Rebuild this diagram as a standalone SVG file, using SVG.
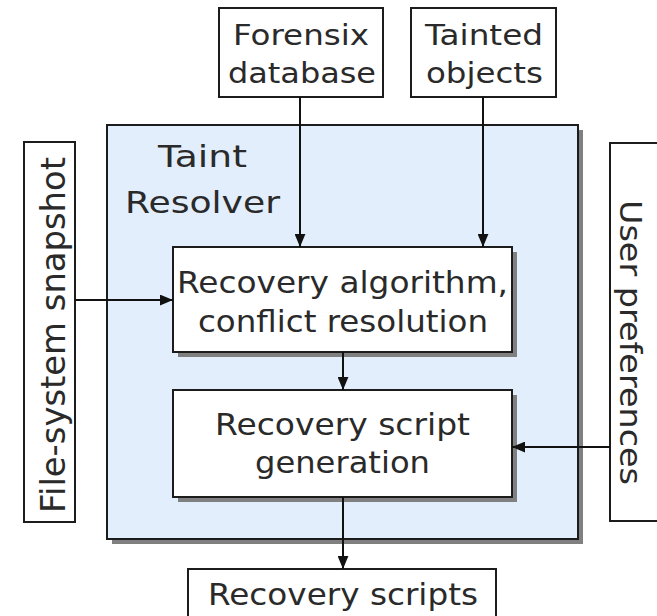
<svg xmlns="http://www.w3.org/2000/svg" width="657" height="616" viewBox="0 0 657 616">
  <style>
    .box { fill: #ffffff; stroke: #1c1c1c; stroke-width: 2; }
    .shadow { fill: #808080; }
    .resolver { fill: #e3eefc; stroke: #1c1c1c; stroke-width: 2; }
    .lbl { font-family: "DejaVu Sans", Verdana, sans-serif; fill: #2a2a2a; }
    .wire { stroke: #111111; stroke-width: 2; fill: none; marker-end: url(#head); }
  </style>
  <defs>
    <marker id="head" viewBox="0 0 12 10" refX="12" refY="5" markerWidth="13" markerHeight="11" markerUnits="userSpaceOnUse" orient="auto">
      <path d="M0,0 L12,5 L0,10 z" fill="#111111"/>
    </marker>
  </defs>

  <rect width="657" height="616" fill="#ffffff"/>

  <!-- Taint Resolver container -->
  <g id="taint-resolver">
    <rect class="shadow" x="112" y="130" width="471" height="414"/>
    <rect class="resolver" x="107" y="125" width="471" height="414"/>
    <text class="lbl" font-size="30" x="158" y="167" textLength="89" lengthAdjust="spacingAndGlyphs">Taint</text>
    <text class="lbl" font-size="30" x="125" y="213" textLength="155" lengthAdjust="spacingAndGlyphs">Resolver</text>
  </g>

  <!-- Inputs -->
  <g id="forensix-database">
    <rect class="box" x="219" y="8" width="164" height="89"/>
    <text class="lbl" font-size="28" x="233" y="45" textLength="136" lengthAdjust="spacingAndGlyphs">Forensix</text>
    <text class="lbl" font-size="28" x="228" y="83" textLength="148" lengthAdjust="spacingAndGlyphs">database</text>
  </g>
  <g id="tainted-objects">
    <rect class="box" x="411" y="8" width="145" height="89"/>
    <text class="lbl" font-size="28" x="425" y="45" textLength="118" lengthAdjust="spacingAndGlyphs">Tainted</text>
    <text class="lbl" font-size="28" x="426" y="83" textLength="117" lengthAdjust="spacingAndGlyphs">objects</text>
  </g>
  <g id="file-system-snapshot">
    <rect class="box" x="24" y="142" width="51" height="380"/>
    <text class="lbl" font-size="33" transform="translate(65,513) rotate(-90)" textLength="356" lengthAdjust="spacingAndGlyphs">File-system snapshot</text>
  </g>
  <g id="user-preferences">
    <rect class="box" x="610" y="143" width="60" height="378"/>
    <text class="lbl" font-size="31" transform="translate(620,200) rotate(90)" textLength="285" lengthAdjust="spacingAndGlyphs">User preferences</text>
  </g>

  <!-- Processing stages -->
  <g id="recovery-algorithm">
    <rect class="shadow" x="178" y="252" width="339" height="105"/>
    <rect class="box" x="173" y="247" width="339" height="105"/>
    <text class="lbl" font-size="30" x="177" y="293" textLength="331" lengthAdjust="spacingAndGlyphs">Recovery algorithm,</text>
    <text class="lbl" font-size="30" x="198" y="332" textLength="290" lengthAdjust="spacingAndGlyphs">conflict resolution</text>
  </g>
  <g id="script-generation">
    <rect class="shadow" x="178" y="395" width="339" height="107"/>
    <rect class="box" x="173" y="390" width="339" height="107"/>
    <text class="lbl" font-size="30" x="215" y="435" textLength="255" lengthAdjust="spacingAndGlyphs">Recovery script</text>
    <text class="lbl" font-size="30" x="255" y="473" textLength="175" lengthAdjust="spacingAndGlyphs">generation</text>
  </g>

  <!-- Output -->
  <g id="recovery-scripts">
    <rect class="box" x="188" y="569" width="308" height="60"/>
    <text class="lbl" font-size="30" x="208" y="605" textLength="270" lengthAdjust="spacingAndGlyphs">Recovery scripts</text>
  </g>

  <!-- Connectors -->
  <g id="connectors">
    <line class="wire" x1="300" y1="97" x2="300" y2="247"/>
    <line class="wire" x1="483" y1="97" x2="483" y2="247"/>
    <line class="wire" x1="75" y1="300" x2="173" y2="300"/>
    <line class="wire" x1="343" y1="352" x2="343" y2="390"/>
    <line class="wire" x1="610" y1="447" x2="512" y2="447"/>
    <line class="wire" x1="343" y1="497" x2="343" y2="569"/>
  </g>
</svg>
